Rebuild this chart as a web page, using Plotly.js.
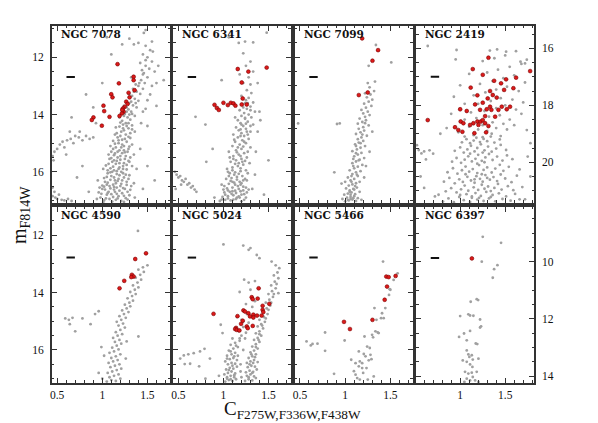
<!DOCTYPE html>
<html>
<head>
<meta charset="utf-8">
<script src="https://cdn.plot.ly/plotly-3.0.1.min.js"></script>
<style>body{margin:0;background:#fff}#cmd{width:598px;height:423px}</style>
</head>
<body>
<div id="cmd"></div>
<script>
// cluster names, top row then bottom row
var clusters = ["NGC 7078", "NGC 6341", "NGC 7099", "NGC 2419", "NGC 4590", "NGC 5024", "NGC 5466", "NGC 6397"];

// gray: all stars, [C, mag]
var gray7078 = [[1.02,17.0],[1.08,16.95],[1.15,16.98],[1.21,17.02],[0.98,16.9],[1.12,16.88],[1.18,16.85],[1.26,16.92],[1.05,16.8],[1.10,16.78],[1.22,16.75],[1.30,16.82],[0.96,16.72],[1.14,16.7],[1.19,16.66],[1.03,16.62],[1.25,16.6],[1.09,16.58],[1.16,16.55],[1.32,16.5],[1.00,16.48],[1.12,16.45],[1.21,16.42],[1.06,16.38],[1.27,16.35],[1.14,16.3],[1.18,16.25],[1.02,16.22],[1.24,16.2],[1.10,16.15],[1.30,16.12],[1.16,16.08],[1.06,16.05],[1.21,16.0],[1.13,15.95],[1.27,15.92],[1.09,15.88],[1.19,15.85],[1.33,15.8],[1.04,15.78],[1.15,15.72],[1.24,15.7],[1.11,15.65],[1.29,15.62],[1.20,15.58],[1.08,15.55],[1.17,15.5],[1.26,15.45],[1.13,15.42],[1.35,15.4],[1.22,15.35],[1.10,15.3],[1.19,15.25],[1.29,15.2],[1.15,15.15],[1.24,15.1],[1.33,15.05],[1.18,15.0],[1.27,14.95],[1.12,14.92],[1.22,14.88],[1.31,14.82],[1.20,14.75],[1.26,14.7],[1.16,14.65],[1.36,14.6],[1.24,14.55],[1.29,14.48],[1.19,14.42],[1.33,14.38],[1.26,14.3],[1.22,14.22],[1.31,14.18],[1.28,14.1],[1.36,14.05],[1.25,13.98],[1.32,13.9],[1.29,13.82],[1.38,13.75],[1.34,13.68],[1.30,13.6],[1.40,13.52],[1.36,13.45],[1.33,13.35],[1.42,13.28],[1.38,13.2],[1.45,13.1],[1.40,13.0],[1.47,12.9],[1.43,12.8],[1.50,12.7],[1.46,12.55],[1.52,12.4],[1.48,12.3],[1.42,12.2],[1.55,12.15],[1.50,12.0],[1.45,11.9],[1.53,11.75],[1.48,11.6],[1.40,11.5],[1.56,11.8],[1.58,12.5],[1.55,13.0],[1.5,13.5],[1.6,12.9],[1.0,16.6],[1.07,16.7],[1.13,16.62],[1.2,16.5],[1.28,16.7],[1.03,16.35],[1.09,16.28],[1.15,16.4],[1.26,16.1],[1.11,16.0],[1.18,15.9],[1.06,15.95],[1.23,15.8],[1.13,15.6],[1.3,15.65],[1.07,15.4],[1.17,15.3],[1.24,15.25],[1.09,15.1],[1.21,15.15],[1.14,15.02],[1.28,15.3],[1.17,14.8],[1.25,14.85],[1.21,14.6],[1.31,14.65],[1.15,14.45],[1.27,14.4],[1.23,14.35],[1.19,14.1],[1.27,13.9],[1.3,14.0],[1.24,13.7],[1.35,13.2],[1.3,13.3],[1.37,12.95],[1.32,12.7],[0.94,16.95],[0.97,16.55],[1.35,16.4],[1.36,16.9],[1.38,15.9],[1.43,14.3],[1.45,13.9],[1.48,13.8],[1.5,14.4],[1.53,13.3],[1.45,12.6],[1.62,12.3],[1.68,12.8],[1.35,11.55],[1.3,11.35],[1.46,11.15],[1.55,11.45],[1.6,13.7],[1.42,15.2],[1.5,15.8],[1.58,16.3],[1.45,16.6],[0.45,15.45],[0.47,15.3],[0.46,15.6],[0.5,15.2],[0.53,15.05],[0.56,14.95],[0.58,15.15],[0.61,14.9],[0.65,14.85],[0.68,15.0],[0.7,14.75],[0.74,14.8],[0.78,14.9],[0.82,14.75],[0.86,14.85],[0.9,14.8],[0.75,14.6],[0.93,14.3],[0.66,14.1],[0.6,15.4],[0.64,14.6],[0.45,16.85],[0.48,16.9],[0.5,16.95],[0.52,16.8],[0.55,16.98],[0.47,16.7],[0.58,17.0],[0.62,16.95],[0.45,16.55],[0.66,17.02],[0.72,16.2],[0.85,16.7],[0.78,15.8],[0.95,16.3],[0.82,13.3],[0.9,13.75],[1.0,12.9],[1.1,11.9],[1.22,11.55],[1.05,11.3],[1.48,11.05],
  [1.01,17.06],[1.04,16.93],[1.11,17.04],[1.17,16.93],[1.24,17.05],[1.28,16.97],[0.99,16.77],[1.06,16.74],[1.16,16.77],[1.24,16.84],[1.31,16.63],[1.02,16.52],[1.08,16.5],[1.13,16.53],[1.23,16.57],[1.27,16.46],[1.05,16.45],[1.17,16.32],[1.22,16.3],[1.29,16.25],[1.05,16.18],[1.13,16.2],[1.19,16.12],[1.23,16.05],[1.09,16.02],[1.16,15.98],[1.01,15.9],[1.23,15.9],[1.12,15.82],[1.27,15.76],[1.07,15.72],[1.19,15.7],[1.16,15.62],[1.25,15.55],[1.1,15.52],[1.2,15.45],[1.31,15.5],[1.14,15.36],[1.25,15.32],[1.12,15.2],[1.22,15.05],[1.3,15.12],[1.18,14.9],[1.29,14.78],[1.14,14.7],[1.23,14.48],[1.33,14.52],[1.2,14.28],[1.29,14.3],[1.24,14.05],[1.33,13.98],[1.27,13.75],[1.32,13.55],[1.37,13.6],[1.34,13.1],[1.41,12.9],[1.44,12.45],[1.48,12.1]];

var gray6341 = [[0.96,17.02],[1.02,16.98],[1.08,17.0],[1.14,16.95],[1.2,17.03],[1.25,16.9],[0.99,16.88],[1.05,16.85],[1.11,16.82],[1.17,16.86],[1.23,16.78],[1.01,16.72],[1.07,16.7],[1.13,16.66],[1.19,16.68],[1.28,16.62],[1.04,16.58],[1.1,16.55],[1.16,16.5],[1.22,16.52],[0.98,16.45],[1.06,16.42],[1.12,16.38],[1.18,16.35],[1.26,16.3],[1.03,16.25],[1.09,16.22],[1.15,16.18],[1.21,16.15],[1.07,16.05],[1.13,16.02],[1.19,15.98],[1.25,15.95],[1.04,15.9],[1.1,15.85],[1.16,15.8],[1.22,15.75],[1.29,15.7],[1.08,15.65],[1.14,15.6],[1.2,15.55],[1.26,15.5],[1.11,15.45],[1.17,15.4],[1.23,15.35],[1.06,15.3],[1.14,15.25],[1.2,15.2],[1.3,15.15],[1.1,15.1],[1.18,15.05],[1.25,15.0],[1.13,14.95],[1.21,14.9],[1.28,14.85],[1.16,14.8],[1.23,14.75],[1.11,14.7],[1.2,14.65],[1.3,14.6],[1.17,14.55],[1.25,14.5],[1.14,14.45],[1.22,14.4],[1.33,14.35],[1.19,14.3],[1.27,14.25],[1.16,14.2],[1.24,14.15],[1.31,14.1],[1.2,14.05],[1.28,14.0],[1.23,13.95],[1.35,13.9],[1.18,13.85],[1.26,13.8],[1.3,13.72],[1.21,13.65],[1.33,13.58],[1.25,13.5],[1.28,13.42],[1.2,13.35],[1.31,13.25],[1.26,13.15],[1.3,12.95],[1.22,12.9],[1.28,12.7],[1.33,12.5],[1.18,12.6],[1.25,12.3],[1.3,12.15],[1.22,11.86],[1.17,11.5],[1.24,11.45],[1.33,11.48],[1.48,11.14],[1.38,12.9],[1.4,13.9],[1.41,14.2],[1.38,14.6],[1.36,15.3],[1.35,16.1],[1.32,16.6],[1.0,16.62],[1.15,16.9],[1.22,16.65],[1.08,16.32],[1.2,16.4],[1.12,16.1],[1.24,16.25],[1.05,16.0],[1.17,15.7],[1.24,15.62],[1.07,15.5],[1.15,15.32],[1.22,15.12],[1.12,14.88],[1.27,14.7],[1.19,14.52],[1.25,14.32],[1.13,14.1],[1.3,14.4],[1.22,13.75],[1.27,13.6],[0.46,16.0],[0.48,16.1],[0.5,16.2],[0.52,16.15],[0.54,16.3],[0.56,16.35],[0.58,16.25],[0.6,16.45],[0.62,16.4],[0.64,16.55],[0.66,16.5],[0.68,16.62],[0.7,16.7],[0.53,16.45],[0.47,16.6],[0.69,14.08],[0.8,14.35],[0.81,15.65],[0.9,16.9],[0.88,15.2],[1.45,16.8],[1.5,15.6],[0.98,12.8],[1.06,11.3],
  [0.98,16.97],[1.05,16.93],[1.11,16.97],[1.18,16.9],[1.23,16.98],[1.02,16.8],[1.09,16.77],[1.14,16.74],[1.2,16.8],[1.26,16.72],[1.05,16.65],[1.1,16.68],[1.17,16.6],[1.25,16.55],[1.01,16.5],[1.13,16.45],[1.19,16.45],[1.1,16.35],[1.15,16.27],[1.22,16.3],[1.06,16.15],[1.17,16.07],[1.27,16.05],[1.1,15.95],[1.19,15.88],[1.13,15.72],[1.21,15.65],[1.11,15.55],[1.19,15.45],[1.27,15.3],[1.16,15.15],[1.23,14.95],[1.19,14.75],[1.26,14.6],[1.2,14.35],[1.24,14.12],[1.3,13.85],[1.24,13.6]];

var gray7099 = [[1.0,17.03],[1.04,17.0],[1.08,16.97],[1.12,17.02],[1.02,16.9],[1.06,16.88],[1.1,16.85],[1.14,16.92],[0.99,16.8],[1.03,16.76],[1.07,16.72],[1.11,16.78],[1.05,16.65],[1.09,16.6],[1.13,16.55],[1.01,16.58],[1.04,16.48],[1.08,16.44],[1.12,16.4],[1.16,16.35],[1.06,16.3],[1.1,16.25],[1.03,16.2],[1.14,16.15],[1.08,16.08],[1.12,16.02],[1.17,15.98],[1.05,15.95],[1.1,15.88],[1.14,15.82],[1.19,15.76],[1.08,15.7],[1.12,15.64],[1.16,15.58],[1.21,15.52],[1.1,15.46],[1.14,15.4],[1.18,15.34],[1.08,15.28],[1.13,15.22],[1.17,15.16],[1.22,15.1],[1.11,15.04],[1.15,14.98],[1.2,14.92],[1.14,14.86],[1.18,14.8],[1.24,14.74],[1.12,14.68],[1.17,14.62],[1.21,14.56],[1.15,14.5],[1.2,14.44],[1.26,14.38],[1.14,14.32],[1.19,14.26],[1.23,14.2],[1.16,14.14],[1.22,14.08],[1.27,14.02],[1.2,13.96],[1.25,13.9],[1.18,13.84],[1.23,13.76],[1.29,13.7],[1.21,13.62],[1.26,13.55],[1.3,13.48],[1.24,13.4],[1.28,13.3],[1.22,13.26],[1.32,13.18],[1.27,13.05],[1.25,12.9],[1.33,12.85],[1.26,12.3],[1.34,11.57],[1.51,12.18],[0.91,14.33],[0.94,14.31],[0.88,16.02],[0.96,16.41],[0.48,14.31],[1.07,16.15],[1.1,16.62],[1.06,16.95],[1.16,16.7],[1.21,16.2],[1.0,16.35],[0.97,16.95],[1.18,16.98],[1.23,15.8],[1.27,15.3],[1.3,14.6],[1.09,15.55],[1.06,16.8],[1.12,15.1],
  [1.03,16.98],[1.09,16.92],[1.05,16.7],[1.11,16.5],[1.07,16.35],[1.13,16.1],[1.09,15.8],[1.15,15.6],[1.12,15.35],[1.17,15.0],[1.19,14.7],[1.22,14.3]];

var gray2419 = [[0.81,21.38],[0.87,21.27],[0.93,21.4],[0.99,21.22],[1.04,21.33],[1.07,21.12],[1.11,21.39],[1.13,21.25],[1.17,21.08],[1.19,21.31],[1.23,21.18],[1.26,21.36],[1.29,21.04],[1.32,21.27],[1.36,21.15],[1.39,21.37],[1.43,21.09],[1.47,21.29],[1.51,21.2],[1.56,21.35],[1.61,21.11],[1.66,21.3],[0.76,21.14],[0.84,21.02],[0.9,20.91],[0.96,21.06],[1.01,20.95],[1.05,20.82],[1.09,21.0],[1.15,20.88],[1.2,20.97],[1.24,20.79],[1.27,20.93],[1.31,20.85],[1.34,21.01],[1.38,20.9],[1.42,20.76],[1.46,20.96],[1.53,20.84],[1.59,20.98],[1.69,20.87],[0.82,20.68],[0.88,20.55],[0.94,20.74],[0.99,20.6],[1.03,20.69],[1.08,20.51],[1.12,20.64],[1.16,20.72],[1.18,20.49],[1.22,20.58],[1.25,20.68],[1.28,20.45],[1.33,20.61],[1.37,20.52],[1.41,20.66],[1.45,20.43],[1.5,20.57],[1.57,20.7],[1.63,20.47],[0.86,20.35],[0.92,20.21],[0.97,20.4],[1.02,20.28],[1.06,20.15],[1.1,20.33],[1.14,20.24],[1.19,20.38],[1.21,20.1],[1.26,20.27],[1.3,20.18],[1.35,20.36],[1.39,20.22],[1.44,20.09],[1.48,20.3],[1.54,20.16],[1.66,20.25],[0.91,19.98],[0.96,19.85],[1.01,20.02],[1.05,19.91],[1.09,19.79],[1.13,19.97],[1.17,19.88],[1.2,19.74],[1.24,19.95],[1.28,19.83],[1.32,19.71],[1.36,19.92],[1.41,19.8],[1.47,19.94],[1.52,19.76],[1.58,19.89],[0.94,19.6],[1.0,19.48],[1.04,19.66],[1.08,19.55],[1.12,19.42],[1.16,19.62],[1.19,19.5],[1.23,19.37],[1.27,19.58],[1.31,19.45],[1.35,19.63],[1.4,19.52],[1.45,19.39],[1.51,19.57],[1.02,19.3],[1.07,19.19],[1.11,19.33],[1.15,19.24],[1.18,19.14],[1.22,19.29],[1.26,19.18],[1.3,19.26],[1.34,19.1],[1.38,19.31],[1.44,19.2],[1.13,21.2],[1.21,21.25],[1.16,20.6],[1.24,20.42],[1.19,20.05],[1.27,20.0],[1.11,19.7],[1.25,19.66],[1.3,20.55],[1.06,20.42],[1.34,21.22],[1.0,21.15],
  [1.05,19.1],[1.15,19.05],[1.25,19.12],[1.35,19.0],[1.45,19.08],[0.98,18.95],[1.2,18.85],[1.3,18.9],[1.4,18.8],[1.52,18.85],[1.1,18.75],[1.25,18.7],[1.36,18.6],[1.48,18.65],[1.6,18.7],[1.05,18.5],[1.18,18.45],[1.32,18.4],[1.44,18.35],[1.55,18.5],[1.68,18.3],[1.12,18.25],[1.27,18.2],[1.4,18.1],[1.5,18.0],[1.62,18.15],[1.2,17.95],[1.34,17.85],[1.45,17.75],[1.58,17.8],[1.7,17.9],[1.15,17.65],[1.28,17.55],[1.4,17.45],[1.52,17.35],[1.65,17.5],[1.22,17.25],[1.36,17.15],[1.48,17.05],[1.6,16.95],[1.72,17.2],[1.3,16.85],[1.42,16.75],[1.55,16.65],[1.68,16.55],[1.25,16.45],[1.38,16.35],[1.5,16.25],[1.62,16.1],[1.74,16.4],[0.95,16.39],[0.96,16.06],[1.33,16.08],[1.41,16.04],[1.51,16.12],[1.67,16.47],[1.72,16.53],[0.64,15.92],[1.1,16.9],[1.0,17.3],[0.93,17.7],[1.05,17.95],[0.9,18.3],[0.85,18.8],[0.78,19.0],[0.54,19.57],[0.57,19.69],[0.6,19.62],[0.66,19.58],[0.7,19.7],[0.52,19.4],[0.62,19.9],[0.56,20.5],[0.6,20.9],[0.72,21.2],[1.74,18.87],[1.78,19.33],[1.75,19.8],[1.78,20.5],[1.72,21.3]];

var gray4590 = [[1.05,17.1],[1.1,17.05],[1.15,17.08],[1.2,17.0],[1.08,16.95],[1.13,16.9],[1.18,16.85],[1.06,16.8],[1.11,16.75],[1.16,16.7],[1.21,16.65],[1.09,16.6],[1.14,16.55],[1.19,16.5],[1.07,16.45],[1.12,16.4],[1.17,16.35],[1.1,16.28],[1.15,16.22],[1.2,16.15],[1.08,16.1],[1.13,16.05],[1.18,15.98],[1.11,15.92],[1.16,15.85],[1.21,15.78],[1.14,15.72],[1.19,15.65],[1.12,15.58],[1.17,15.5],[1.22,15.45],[1.15,15.38],[1.2,15.3],[1.25,15.22],[1.18,15.15],[1.23,15.08],[1.16,15.02],[1.21,14.95],[1.26,14.88],[1.19,14.82],[1.24,14.75],[1.29,14.68],[1.22,14.62],[1.27,14.55],[1.31,14.48],[1.25,14.42],[1.3,14.35],[1.34,14.28],[1.28,14.2],[1.33,14.12],[1.37,14.05],[1.31,13.98],[1.36,13.9],[1.4,13.82],[1.34,13.75],[1.39,13.65],[1.43,13.55],[1.37,13.48],[1.42,13.38],[1.46,13.28],[1.4,13.2],[1.45,13.12],[1.5,13.05],[1.395,11.85],[1.4,15.53],[0.96,16.8],[1.02,16.2],[0.99,15.9],[1.0,17.0],[1.26,16.3],[1.27,15.7],[0.59,14.9],[0.63,14.95],[0.67,14.88],[0.7,15.35],[0.78,14.9],[0.92,14.75],[0.96,14.65],[0.64,15.1],[0.87,15.1]];

var gray5024 = [[1.02,17.1],[1.06,17.05],[1.1,17.08],[1.14,17.02],[1.04,16.95],[1.08,16.9],[1.12,16.95],[1.01,16.85],[1.05,16.8],[1.09,16.75],[1.13,16.82],[1.03,16.68],[1.07,16.62],[1.11,16.65],[1.15,16.58],[1.05,16.5],[1.09,16.45],[1.13,16.48],[1.02,16.4],[1.07,16.32],[1.11,16.28],[1.15,16.35],[1.04,16.2],[1.09,16.15],[1.13,16.1],[1.06,16.02],[1.11,15.95],[1.16,15.9],[1.08,15.82],[1.13,15.75],[1.18,15.68],[1.1,15.6],[1.24,17.08],[1.28,17.02],[1.32,17.06],[1.36,16.98],[1.26,16.9],[1.3,16.85],[1.34,16.92],[1.25,16.78],[1.29,16.72],[1.33,16.76],[1.37,16.68],[1.27,16.6],[1.31,16.55],[1.35,16.58],[1.26,16.45],[1.3,16.4],[1.34,16.35],[1.38,16.42],[1.28,16.28],[1.32,16.22],[1.36,16.15],[1.3,16.08],[1.34,16.02],[1.38,15.95],[1.32,15.88],[1.36,15.8],[1.4,15.72],[1.34,15.65],[1.38,15.58],[1.42,15.5],[1.36,15.42],[1.4,15.35],[1.44,15.25],[1.38,15.18],[1.42,15.1],[1.46,15.02],[1.4,14.95],[1.45,14.85],[1.49,14.75],[1.44,14.65],[1.48,14.55],[1.52,14.45],[1.47,14.35],[1.51,14.25],[1.55,14.15],[1.5,14.05],[1.54,13.95],[1.58,13.85],[1.53,13.75],[1.57,13.62],[1.61,13.5],[1.56,13.4],[1.6,13.3],[1.62,13.15],[1.58,13.05],[1.61,14.02],[1.535,12.92],[1.4,12.8],[1.37,12.69],[1.28,12.51],[1.22,12.36],[1.0,12.32],[1.3,12.45],[1.2,15.5],[1.25,15.4],[1.17,15.35],[1.22,15.2],[1.28,15.05],[1.2,14.95],[1.15,14.85],[1.26,14.75],[1.32,14.5],[1.25,14.4],[1.35,14.3],[1.3,13.9],[1.28,13.65],[1.23,13.55],[1.18,13.98],[1.35,13.6],[1.22,16.0],[1.19,16.5],[1.2,16.95],[1.18,15.6],[0.56,16.19],[0.61,16.15],[0.67,16.11],[0.74,16.05],[0.79,15.96],[0.57,16.49],[0.63,16.48],[0.73,16.57],[0.97,15.12],[0.99,15.41],[0.85,16.3],[0.52,16.3],[0.8,17.0],[0.95,16.9],
  [1.04,17.0],[1.08,17.02],[1.12,16.88],[1.06,16.7],[1.1,16.55],[1.04,16.3],[1.12,16.22],[1.08,16.05],[1.14,15.85],[1.28,16.95],[1.32,16.8],[1.29,16.5],[1.33,16.45],[1.35,16.25],[1.31,16.15],[1.36,15.9],[1.39,15.65],[1.4,15.45],[1.43,15.15],[1.47,14.9],[1.5,14.6],[1.53,14.35],[1.56,14.05],[1.59,13.7],[1.24,15.6],[1.22,15.0],[1.16,16.2],[1.19,16.75]];

var gray5466 = [[1.419,12.92],[1.58,13.33],[1.536,13.56],[1.5,13.9],[1.485,14.08],[1.324,14.54],[1.426,14.89],[1.397,14.89],[1.346,14.95],[1.371,15.41],[1.335,15.35],[1.298,15.47],[1.309,15.56],[1.214,15.53],[0.994,15.67],[0.778,15.39],[0.778,16.03],[0.573,15.7],[0.62,15.84],[0.694,15.78],[0.639,15.79],[1.067,16.34],[1.243,15.88],[1.272,15.93],[1.28,16.17],[1.206,16.14],[1.225,16.22],[1.162,16.4],[1.188,16.46],[1.261,16.36],[1.291,16.32],[1.151,16.57],[1.188,16.63],[1.236,16.63],[1.199,16.8],[1.115,16.86],[1.133,16.98],[1.25,17.03],[1.316,16.92],[1.162,17.03],[1.097,16.74],[0.877,16.83],[1.492,13.88],[1.36,15.39],[1.408,14.72],[1.444,14.54],[1.151,16.05],[1.115,16.46]];

var gray6397 = [[1.251,9.13],[1.454,9.34],[1.24,10.0],[1.414,10.12],[1.377,10.26],[1.362,10.56],[1.184,11.31],[1.2,11.34],[1.117,11.4],[1.0,11.9],[1.091,11.84],[1.11,11.88],[1.147,11.89],[1.221,12.02],[1.232,12.26],[1.221,12.3],[1.043,12.51],[0.988,12.63],[1.11,12.42],[1.073,12.75],[1.173,12.86],[1.19,12.88],[1.073,13.1],[1.091,13.24],[1.102,13.33],[1.129,13.27],[1.029,13.45],[1.073,13.5],[1.14,13.42],[1.203,13.39],[1.11,13.59],[1.136,13.68],[1.054,13.85],[1.091,13.91],[1.129,13.88],[1.184,13.85],[1.073,14.09],[1.11,14.15],[1.166,14.15],[1.203,14.2],[1.047,14.2],[1.14,14.03]];

// red: selected stars
var red7078 = [[1.169,12.24],[1.184,12.91],[1.347,12.68],[1.347,12.8],[1.358,13.15],[1.099,13.29],[1.113,13.4],[1.291,13.24],[1.302,13.4],[1.265,13.55],[1.28,13.63],[1.247,13.73],[1.228,13.79],[1.236,13.9],[1.217,13.96],[1.013,13.69],[1.021,13.88],[0.902,14.1],[0.884,14.19],[1.08,14.08],[1.191,14.05],[0.995,14.39],[1.221,13.84]];
var red6341 = [[1.159,12.41],[1.277,12.5],[1.48,12.36],[1.203,12.88],[1.214,13.44],[0.901,13.66],[0.927,13.77],[0.949,13.84],[1.0,13.59],[1.049,13.67],[1.082,13.59],[1.111,13.61],[1.133,13.69],[1.203,13.65],[1.259,13.65]];
var red7099 = [[1.188,11.34],[1.364,11.75],[1.302,12.12],[1.151,13.32],[1.25,13.23]];
var red2419 = [[1.314,16.33],[1.14,16.73],[1.251,16.93],[1.377,17.14],[1.454,17.23],[1.51,17.09],[1.621,17.03],[1.777,16.8],[1.488,17.46],[1.591,17.4],[1.117,17.38],[1.191,17.65],[1.332,17.5],[1.362,17.64],[1.306,17.76],[1.406,17.73],[1.251,17.91],[1.332,18.05],[1.347,18.16],[1.462,18.05],[1.554,18.05],[1.517,18.14],[1.295,18.14],[1.221,18.16],[1.166,17.97],[1.0,18.14],[1.073,18.2],[0.64,18.52],[1.006,18.57],[1.036,18.63],[1.147,18.63],[1.191,18.57],[1.203,18.69],[1.229,18.57],[1.251,18.52],[1.277,18.63],[1.314,18.73],[1.11,18.69],[0.943,18.77],[0.98,18.87],[1.025,18.93],[1.158,18.98],[1.288,18.95],[1.425,18.16],[1.388,18.4],[1.277,18.38]];
var red4590 = [[1.484,12.63],[1.365,12.83],[1.328,13.38],[1.347,13.44],[1.321,13.46],[1.243,13.59],[1.191,13.85]];
var red5024 = [[1.314,14.16],[1.325,14.23],[1.38,14.21],[1.391,13.85],[1.435,14.46],[1.509,14.39],[1.222,14.62],[1.24,14.66],[1.277,14.72],[1.295,14.83],[1.332,14.77],[1.332,14.87],[1.373,14.8],[1.424,14.8],[1.435,14.6],[1.443,14.68],[1.156,14.82],[0.89,14.74],[1.196,15.09],[1.14,15.23],[1.13,15.27],[1.148,15.3],[1.177,15.32],[1.259,15.18],[1.27,15.24],[1.325,15.16],[1.214,14.98]];
var red5466 = [[0.987,15.02],[1.053,15.27],[1.302,14.95],[1.437,14.25],[1.463,13.79],[1.455,13.44],[1.481,13.46],[1.558,13.42]];
var red6397 = [[1.13,9.885]];

// typical error bar position per panel
var errX = [0.65, 0.65, 0.65, 0.72, 0.65, 0.65, 0.65, 0.72];
var errY = [12.69, 12.69, 12.69, 17.0, 12.78, 12.78, 12.78, 9.87];

var grays = [gray7078, gray6341, gray7099, gray2419, gray4590, gray5024, gray5466, gray6397];
var reds = [red7078, red6341, red7099, red2419, red4590, red5024, red5466, red6397];

var colDom = [[0.0865,0.2843],[0.2893,0.4866],[0.4925,0.6906],[0.6957,0.8930]];
var rowDom = [[0.5201,0.9397],[0.0946,0.5118]];
var xRng = [[0.44,1.75],[0.44,1.75],[0.44,1.75],[0.51,1.82]];
var yRng = [[[17.09,10.89],[17.09,10.89],[17.09,10.89],[21.43,15.2]],
            [[17.15,11.0],[17.15,11.0],[17.15,11.0],[14.24,8.07]]];

var tickFont = {family: "Liberation Serif, serif", size: 11.5, color: "#111"};

function baseAxis() {
  return {
    showline: true, linecolor: "#333", linewidth: 1.8, mirror: "allticks",
    ticks: "inside", ticklen: 5, tickwidth: 1, tickcolor: "#333",
    showgrid: false, zeroline: false, tickfont: tickFont
  };
}

var data = [];
var layout = {
  width: 598, height: 423,
  margin: {l: 0, r: 0, t: 0, b: 0},
  paper_bgcolor: "#fff", plot_bgcolor: "#fff",
  showlegend: false,
  annotations: []
};

for (var i = 0; i < 8; i++) {
  var row = Math.floor(i / 4), col = i % 4;
  var n = i + 1, xs = n === 1 ? "" : n;
  var xa = "x" + xs, ya = "y" + xs;

  data.push({
    type: "scatter", mode: "markers", xaxis: xa, yaxis: ya,
    x: grays[i].map(function (p) { return p[0]; }),
    y: grays[i].map(function (p) { return p[1]; }),
    marker: {size: 2.8, color: "#a0a0a0"}, hoverinfo: "skip"
  });
  data.push({
    type: "scatter", mode: "markers", xaxis: xa, yaxis: ya,
    x: reds[i].map(function (p) { return p[0]; }),
    y: reds[i].map(function (p) { return p[1]; }),
    marker: {size: 3.8, color: "#dc1a1a", line: {color: "#7a0000", width: 0.6}}
  });
  data.push({
    type: "scatter", mode: "markers", xaxis: xa, yaxis: ya,
    x: [errX[i]], y: [errY[i]],
    marker: {symbol: "line-ew", size: 6, line: {color: "#111", width: 2}}
  });

  var xax = baseAxis();
  Object.assign(xax, {
    domain: colDom[col], anchor: ya, range: xRng[col],
    tick0: 0, dtick: 0.5, showticklabels: row === 1,
    minor: {dtick: 0.1, ticklen: 2.5, ticks: "inside", tickcolor: "#333"}
  });
  var yax = baseAxis();
  Object.assign(yax, {
    domain: rowDom[row], anchor: xa, range: yRng[row][col],
    tick0: 0, dtick: 2, showticklabels: col === 0 || col === 3,
    side: col === 3 ? "right" : "left", ticklabelstandoff: 4,
    minor: {dtick: 0.5, ticklen: 2.5, ticks: "inside", tickcolor: "#333"}
  });
  layout["xaxis" + xs] = xax;
  layout["yaxis" + xs] = yax;

  layout.annotations.push({
    xref: xa + " domain", yref: ya + " domain", x: 0.06, y: 0.995,
    xanchor: "left", yanchor: "top", showarrow: false, text: clusters[i],
    font: {family: "DejaVu Serif, serif", size: 10.5, color: "#111", weight: "bold"}
  });
}

layout.annotations.push({
  xref: "paper", yref: "paper", x: 21 / 598, y: 1 - 215 / 423,
  xanchor: "center", yanchor: "middle", textangle: -90,
  showarrow: false, text: "m<sub>F814W</sub>",
  font: {family: "Liberation Serif, serif", size: 20, color: "#111"}
});
layout.annotations.push({
  xref: "paper", yref: "paper", x: 292 / 598, y: 1 - 410 / 423,
  xanchor: "center", yanchor: "middle",
  showarrow: false, text: "C<sub>F275W,F336W,F438W</sub>",
  font: {family: "Liberation Serif, serif", size: 19, color: "#111"}
});

Plotly.newPlot("cmd", data, layout, {displayModeBar: false, staticPlot: true});
</script>
</body>
</html>
